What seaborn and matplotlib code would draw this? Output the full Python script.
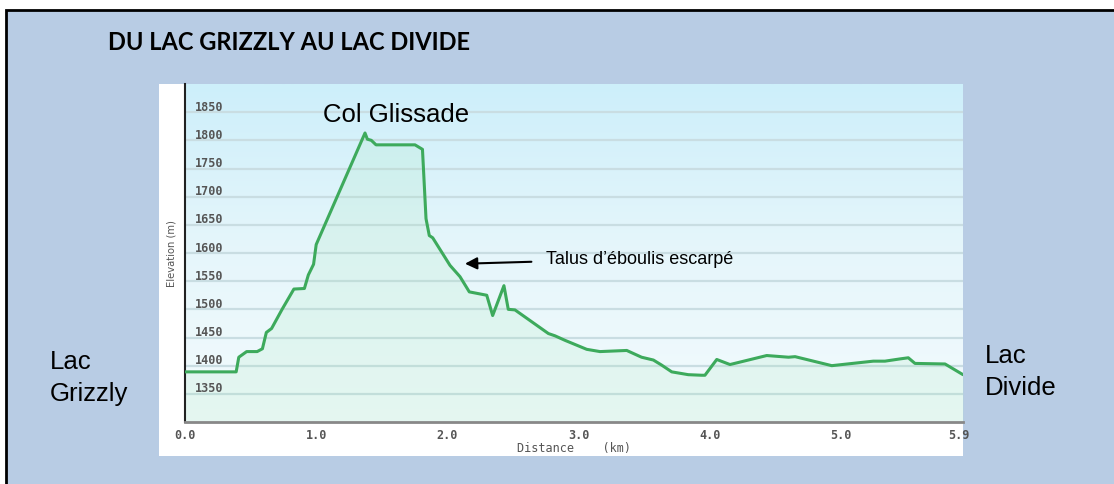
import numpy as np
import matplotlib
matplotlib.use('Agg')
import matplotlib.pyplot as plt
import matplotlib.patches as mpatches
import matplotlib.transforms as mtransforms
from matplotlib.colors import LinearSegmentedColormap
import seaborn as sns

# elevation profile
dist_km = [0.0, 0.39, 0.41, 0.47, 0.55, 0.59, 0.62, 0.66, 0.74, 0.83, 0.91, 0.94, 0.98,
           1.0, 1.372, 1.39, 1.42, 1.456, 1.753, 1.81, 1.837, 1.862, 1.888, 2.02, 2.096,
           2.167, 2.30, 2.345, 2.431, 2.464, 2.515, 2.77, 2.82, 2.896, 3.062, 3.163, 3.367,
           3.48, 3.57, 3.633, 3.71, 3.836, 3.938, 3.963, 4.053, 4.154, 4.434, 4.6, 4.65,
           4.93, 5.246, 5.335, 5.45, 5.513, 5.564, 5.793, 5.93]
elev_m = [1389, 1389, 1415, 1425, 1425, 1430, 1459, 1466, 1500, 1536, 1537, 1561, 1580,
          1615, 1813, 1802, 1800, 1792, 1792, 1784, 1661, 1631, 1627, 1578, 1558,
          1531, 1525, 1489, 1542, 1500, 1499, 1457, 1453, 1445, 1429, 1425, 1427,
          1415, 1410, 1401, 1389, 1384, 1383, 1383, 1411, 1402, 1418, 1415, 1416,
          1400, 1408, 1408, 1412, 1414, 1404, 1403, 1384]

ytick_values = [1350, 1400, 1450, 1500, 1550, 1600, 1650, 1700, 1750, 1800, 1850]
xtick_values = [0, 1, 2, 3, 4, 5, 5.9]
xtick_labels = ['0.0', '1.0', '2.0', '3.0', '4.0', '5.0', '5.9']

title = 'DU LAC GRIZZLY AU LAC DIVIDE'
pass_label = 'Col Glissade'
scree_label = 'Talus d\u2019éboulis escarpé'
start_label = 'Lac\nGrizzly'
end_label = 'Lac\nDivide'

sns.set_style('white')
plt.rcParams['font.family'] = ['Liberation Sans', 'DejaVu Sans']
plt.rcParams['text.color'] = 'black'

W, H = 1114, 485
fig = plt.figure(figsize=(W / 100, H / 100), dpi=100)
fig.patch.set_facecolor('white')

# light blue frame and white chart panel
fig.add_artist(mpatches.Rectangle((6 / W, -0.1), 1.2, 1 - 11 / H + 0.1, transform=fig.transFigure,
                                  facecolor='#B8CCE4', edgecolor='black', linewidth=2, zorder=-10))
fig.add_artist(mpatches.Rectangle((159 / W, 1 - 457 / H), (963 - 159) / W, (457 - 85) / H,
                                  transform=fig.transFigure, facecolor='white', edgecolor='none',
                                  zorder=-5))

ax = fig.add_axes([185 / W, 1 - 423 / H, (963 - 185) / W, (423 - 85) / H])
ax.set_facecolor('none')

xmax, ymin, ymax = 5.93, 1300, 1900
grad = LinearSegmentedColormap.from_list('bg', ['#F3FBFD', '#E6F6FB', '#CDEFFA'])
ax.imshow(np.linspace(0, 1, 256).reshape(-1, 1), cmap=grad, origin='lower', aspect='auto',
          extent=[0, xmax, ymin, ymax], zorder=0)

for v in ytick_values:
    ax.axhline(v, color='#C9DDE2', linewidth=1.6, zorder=1)

ax.fill_between(dist_km, elev_m, ymin, color='#9FE6B4', alpha=0.16, linewidth=0, zorder=2)
sns.lineplot(x=dist_km, y=elev_m, ax=ax, color='#3DAA5C', linewidth=2.2, sort=False, zorder=3)

ax.set_xlim(0, xmax)
ax.set_ylim(ymin, ymax)
ax.set_yticks([])
ax.set_xticks(xtick_values)
ax.set_xticklabels(xtick_labels, family='DejaVu Sans Mono', fontsize=8.5, color='#555555',
                   fontweight='bold')
ax.tick_params(axis='x', direction='inout', length=6, width=1, color='#666666', pad=1)

# elevation labels sit inside the plot, just above each grid line
lab_tr = mtransforms.offset_copy(ax.get_yaxis_transform(), fig=fig, x=10, y=6, units='dots')
for v in ytick_values:
    ax.text(0, v, str(v), transform=lab_tr, ha='left', va='center', family='DejaVu Sans Mono',
            fontsize=8.5, fontweight='bold', color='#555555', zorder=4)

for s in ['top', 'right']:
    ax.spines[s].set_visible(False)
ax.spines['left'].set_color('#222222')
ax.spines['left'].set_linewidth(1.5)
ax.spines['bottom'].set_color('#888888')
ax.spines['bottom'].set_linewidth(2)

ax.set_xlabel('Distance    (km)', family='DejaVu Sans Mono', fontsize=8.5, color='#555555',
              labelpad=0)
ax.set_ylabel('Elevation (m)', family='DejaVu Sans', fontstretch='condensed', fontsize=8,
              color='#555555')
ax.yaxis.set_label_coords(-8 / 778, 0.5)

ax.text(1.61, 1847, pass_label, ha='center', va='center', fontsize=18.5, color='black', zorder=5)
ax.annotate(scree_label, xy=(2.134, 1581), xytext=(2.75, 1590), ha='left', va='center',
            fontsize=13, color='black', zorder=5,
            arrowprops=dict(arrowstyle='-|>', color='black', lw=1.5, mutation_scale=18,
                            shrinkA=8, shrinkB=0))

fig.text(50 / W, 1 - 378 / H, start_label, ha='left', va='center', fontsize=18.5, linespacing=1.45)
fig.text(985 / W, 1 - 372 / H, end_label, ha='left', va='center', fontsize=18.5, linespacing=1.45)
fig.text(108 / W, 1 - 43 / H, title, ha='left', va='center', family=['Lato', 'DejaVu Sans'],
         fontweight='bold', fontsize=17)

fig.savefig('out.png', dpi=100)
